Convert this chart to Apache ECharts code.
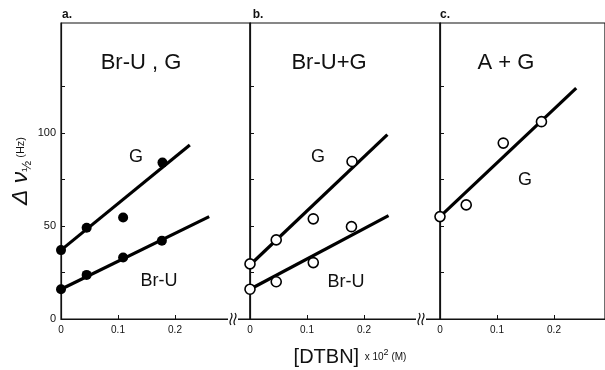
<!DOCTYPE html>
<html>
<head>
<meta charset="utf-8">
<script src="https://cdn.jsdelivr.net/npm/echarts@6/dist/echarts.min.js"></script>
<style>
  html, body { margin: 0; padding: 0; background: #fff; }
  #chart { width: 605px; height: 370px; }
</style>
</head>
<body>
<div id="chart"></div>
<script>
// values: [DTBN] x10^2 (M) vs line width (Hz)
const aG = [[0, 37], [0.045, 49], [0.109, 54.5], [0.178, 84]];
const aBrU = [[0, 16], [0.045, 23.7], [0.109, 33], [0.177, 42]];
const aGFit = [[0, 37], [0.226, 93.5]];
const aBrUFit = [[0, 16], [0.26, 55]];

const bG = [[0, 29.6], [0.046, 42.5], [0.111, 53.8], [0.179, 84.6]];
const bBrU = [[0, 16], [0.046, 20], [0.111, 30.3], [0.178, 49.6]];
const bGFit = [[0, 29], [0.241, 99]];
const bBrUFit = [[0, 16], [0.243, 55.5]];

const cG = [[0, 55], [0.046, 61.3], [0.111, 94.5], [0.178, 106]];
const cGFit = [[0, 55], [0.239, 124]];

const yTicks = [25, 50, 75, 100, 125];
const yLabels = [0, 50, 100];
const xTicks = [0.1, 0.2];
const xLabels = [0, 0.1, 0.2];

const chart = echarts.init(document.getElementById("chart"));
const font = "'Liberation Sans', Arial, sans-serif";

const panels = [
  { left: 61, width: 189, xmax: 0.3316, showY: true },
  { left: 250, width: 190, xmax: 0.3333, showY: false },
  { left: 440, width: 165, xmax: 0.2895, showY: false },
];

const grid = panels.map(p => ({
  left: p.left, top: 23, width: p.width, height: 296,
  show: true, borderColor: "#111", borderWidth: 1.2, backgroundColor: "transparent",
}));

const xAxis = panels.map((p, i) => ({
  type: "value", gridIndex: i, min: 0, max: p.xmax,
  axisLine: { lineStyle: { color: "#111", width: 1.2 } },
  axisTick: { inside: true, length: 4, customValues: xTicks, lineStyle: { color: "#111" } },
  axisLabel: {
    customValues: xLabels, color: "#111", fontFamily: font, fontSize: 10, margin: 6,
    formatter: v => (v === 0 ? "0" : v.toFixed(1)),
  },
  splitLine: { show: false },
}));

const yAxis = panels.map((p, i) => ({
  type: "value", gridIndex: i, min: 0, max: 159,
  axisLine: { show: true, lineStyle: { color: "#111", width: 1.2 } },
  axisTick: { show: true, inside: true, length: 4, customValues: yTicks, lineStyle: { color: "#111" } },
  axisLabel: { show: p.showY, customValues: yLabels, color: "#111", fontFamily: font, fontSize: 11, margin: 5 },
  splitLine: { show: false },
}));

function fit(data, i) {
  return {
    type: "line", xAxisIndex: i, yAxisIndex: i, data: data, symbol: "none",
    lineStyle: { color: "#000", width: 3.2 }, z: 2, silent: true,
  };
}
function dots(data, i, hollow) {
  return {
    type: "scatter", xAxisIndex: i, yAxisIndex: i, data: data, symbolSize: hollow ? 10 : 10,
    itemStyle: hollow
      ? { color: "#fff", borderColor: "#000", borderWidth: 1.6, opacity: 1 }
      : { color: "#000", opacity: 1 },
    z: 3, silent: true,
  };
}

const txt = (x, y, text, size, weight) => ({
  type: "text", x: x, y: y, silent: true,
  style: {
    text: text, font: (weight || "normal") + " " + size + "px " + font,
    fill: "#111", textAlign: "center", textVerticalAlign: "middle",
  },
});

function brk(x) {
  const y = 319;
  return [
    { type: "rect", shape: { x: x - 5, y: y - 2, width: 10, height: 4 }, style: { fill: "#fff" }, z: 10, silent: true },
    { type: "bezierCurve", shape: { x1: x - 2, y1: y + 6, cpx1: x - 6, cpy1: y + 1, cpx2: x + 2, cpy2: y - 1, x2: x - 2, y2: y - 6 },
      style: { stroke: "#111", lineWidth: 1.2, fill: null }, z: 11, silent: true },
    { type: "bezierCurve", shape: { x1: x + 2, y1: y + 6, cpx1: x - 2, cpy1: y + 1, cpx2: x + 6, cpy2: y - 1, x2: x + 2, y2: y - 6 },
      style: { stroke: "#111", lineWidth: 1.2, fill: null }, z: 11, silent: true },
  ];
}

const option = {
  backgroundColor: "#fff",
  animation: false,
  grid: grid,
  xAxis: xAxis,
  yAxis: yAxis,
  series: [
    fit(aGFit, 0), fit(aBrUFit, 0), dots(aG, 0, false), dots(aBrU, 0, false),
    fit(bGFit, 1), fit(bBrUFit, 1), dots(bG, 1, true), dots(bBrU, 1, true),
    fit(cGFit, 2), dots(cG, 2, true),
  ],
  graphic: [
    txt(67, 15, "a.", 12, "bold"),
    txt(258, 15, "b.", 12, "bold"),
    txt(445, 15, "c.", 12, "bold"),
    txt(141, 63, "Br-U , G", 22),
    txt(136, 157, "G", 18),
    txt(159, 281, "Br-U", 18),
    txt(329, 63, "Br-U+G", 22),
    txt(318, 157, "G", 18),
    txt(346, 282, "Br-U", 18),
    txt(506, 63, "A + G", 22),
    txt(525, 180, "G", 18),
    {
      type: "text", x: 21, y: 171, rotation: Math.PI / 2, silent: true,
      style: {
        text: "{b|Δ ν}{s|½}{h| (Hz)}", fill: "#111", textAlign: "center", textVerticalAlign: "middle",
        rich: {
          b: { font: "italic 23px " + font, fill: "#111" },
          s: { font: "13px " + font, fill: "#111", padding: [12, 0, 0, 0] },
          h: { font: "11px " + font, fill: "#111" },
        },
      },
    },
    {
      type: "text", x: 350, y: 357, silent: true,
      style: {
        text: "{b|[DTBN]}{h|  x 10}{p|2}{h| (M)}", fill: "#111", textAlign: "center", textVerticalAlign: "middle",
        rich: {
          b: { font: "20px " + font, fill: "#111" },
          h: { font: "10px " + font, fill: "#111" },
          p: { font: "9px " + font, fill: "#111", padding: [0, 0, 8, 0] },
        },
      },
    },
  ].concat(brk(233), brk(421)),
};

chart.setOption(option);
</script>
</body>
</html>
